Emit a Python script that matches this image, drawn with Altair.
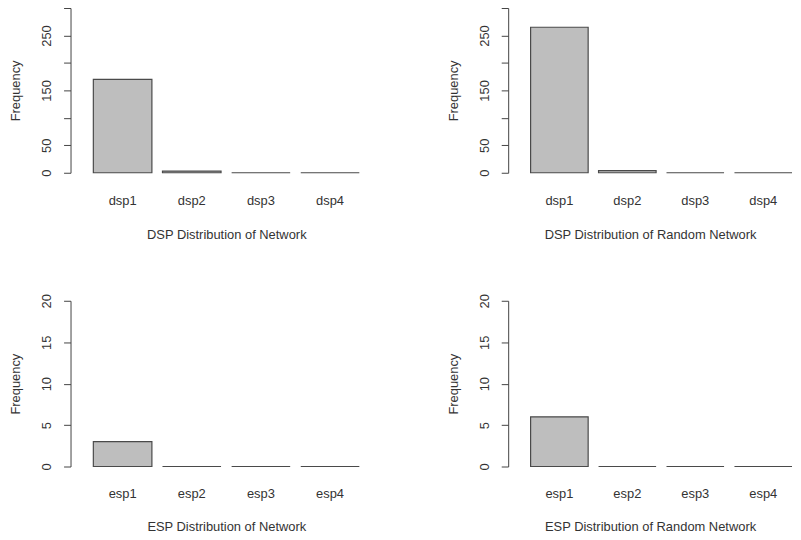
import altair as alt
import pandas as pd

dsp_cats = ["dsp1", "dsp2", "dsp3", "dsp4"]
esp_cats = ["esp1", "esp2", "esp3", "esp4"]
dsp_network = [170, 3, 0, 0]
dsp_random = [265, 4, 0, 0]
esp_network = [3, 0, 0, 0]
esp_random = [6, 0, 0, 0]
dsp_ticks = [0, 50, 100, 150, 200, 250, 300]
dsp_shown = [0, 50, 150, 250]
esp_ticks = [0, 5, 10, 15, 20]
esp_shown = [0, 5, 10, 15, 20]

FONT = "Liberation Sans"
TXT = "#333333"


def panel(cats, vals, title, ticks, shown, dmax, width, height, pad_outer, align,
          x_label_pad, x_title_pad):
    df = pd.DataFrame({"cat": cats, "freq": vals})
    shown_js = "[" + ",".join(str(v) for v in shown) + "]"
    return (
        alt.Chart(df)
        .mark_bar(fill="#bebebe", stroke="#4a4a4a", strokeWidth=1.2)
        .encode(
            x=alt.X(
                "cat:N",
                sort=cats,
                title=title,
                scale=alt.Scale(paddingInner=0.153, paddingOuter=pad_outer, align=align),
                axis=alt.Axis(
                    labelAngle=0,
                    domain=False,
                    ticks=False,
                    labelPadding=x_label_pad,
                    titlePadding=x_title_pad,
                    labelFontSize=13,
                    titleFontSize=13,
                    titleFontWeight="normal",
                    labelColor=TXT,
                    titleColor=TXT,
                    labelFont=FONT,
                    titleFont=FONT,
                ),
            ),
            y=alt.Y(
                "freq:Q",
                title="Frequency",
                scale=alt.Scale(domain=[0, dmax], nice=False, zero=True),
                axis=alt.Axis(
                    values=ticks,
                    labelExpr=f"indexof({shown_js}, datum.value) >= 0 ? datum.label : ''",
                    labelAngle=270,
                    grid=False,
                    tickSize=7,
                    tickColor="#444444",
                    domainColor="#444444",
                    labelPadding=10,
                    titlePadding=18,
                    labelFontSize=13,
                    titleFontSize=13,
                    titleFontWeight="normal",
                    labelColor=TXT,
                    titleColor=TXT,
                    labelFont=FONT,
                    titleFont=FONT,
                    labelOverlap=False,
                ),
            ),
        )
        .properties(width=width, height=height)
    )


tl = panel(dsp_cats, dsp_network, "DSP Distribution of Network", dsp_ticks, dsp_shown, 300, 314, 166, 0.33, 0.5, 22, 21)
tr = panel(dsp_cats, dsp_random, "DSP Distribution of Random Network", dsp_ticks, dsp_shown, 300, 286, 166, 0.165, 1, 22, 21)
bl = panel(esp_cats, esp_network, "ESP Distribution of Network", esp_ticks, esp_shown, 20, 314, 167, 0.33, 0.5, 21, 20)
br = panel(esp_cats, esp_random, "ESP Distribution of Random Network", esp_ticks, esp_shown, 20, 286, 167, 0.165, 1, 21, 20)

chart = (
    alt.vconcat(
        alt.hconcat(tl, tr, spacing=66),
        alt.hconcat(bl, br, spacing=66),
        spacing=52,
    )
    .properties(padding={"left": 2, "top": -3, "right": 0, "bottom": 0})
    .configure_view(stroke=None)
)

chart.save("out.html", embed_options={"renderer": "svg", "actions": False})
